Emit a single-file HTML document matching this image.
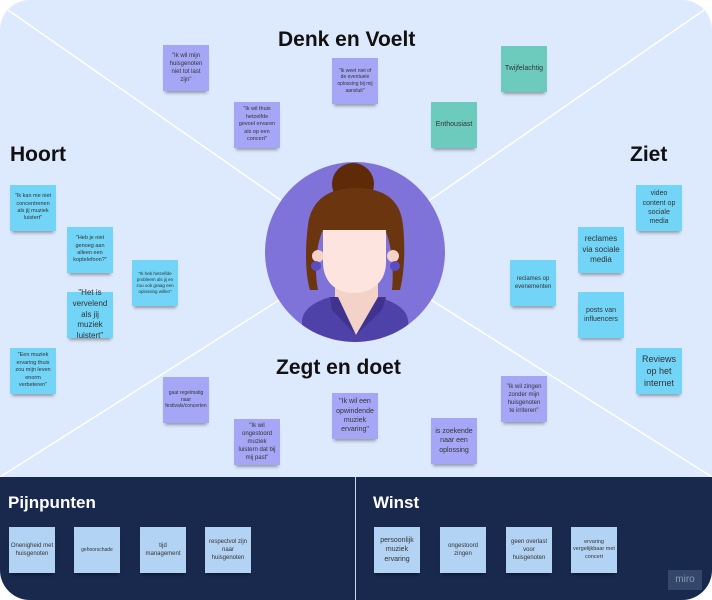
<!DOCTYPE html>
<html><head><meta charset="utf-8"><style>
body{margin:0;width:712px;height:600px;background:#fff;overflow:hidden;font-family:"Liberation Sans",sans-serif}
#w{position:absolute;left:0;top:0;width:712px;height:600px;border-radius:30px;overflow:hidden;background:#dde9fc}
.s{position:absolute;width:46px;height:46px;display:flex;align-items:center;justify-content:center;text-align:center;font-size:6px;line-height:1.35;color:#333;box-shadow:0 4px 3px -2px rgba(0,0,0,.35);padding:2px 4px;box-sizing:border-box}
.c{background:#72d4f6}.p{background:#a5a7f6}.t{background:#6dcbbe}.b{background:#b3d3f4}
.h{position:absolute;font-weight:bold;color:#111;font-size:21px}
#bot{position:absolute;left:0;top:477px;width:712px;height:123px;background:#18294d}
.wh{position:absolute;color:#fff;font-weight:bold;font-size:17px}
</style></head><body><div id="w">
<svg width="712" height="600" style="position:absolute;left:0;top:0">
<defs><clipPath id="cc"><circle cx="355" cy="252" r="90"/></clipPath></defs>
<g stroke="#fff" stroke-width="1.5">
<line x1="8" y1="10" x2="355" y2="252"/>
<line x1="704" y1="10" x2="355" y2="252"/>
<line x1="0" y1="477" x2="355" y2="252"/>
<line x1="712" y1="477" x2="355" y2="252"/>
</g>
<circle cx="355" cy="252" r="90" fill="#7f72d8"/>
<g clip-path="url(#cc)">
<path d="M302 345 L302 320 Q304 305 330 297 L378 297 Q406 305 408 320 L410 345 Z" fill="#4e41a8"/>
<rect x="335" y="270" width="43" height="40" fill="#f3d2c8"/>
<path d="M335 305 L356 335 L378 305 Z" fill="#f3d2c8"/>
<path d="M330 297 L338 297 L356 335 L332 310 Z" fill="#3f338f"/>
<path d="M378 297 L386 297 L382 310 L356 335 Z" fill="#3f338f"/>
</g>
<circle cx="353" cy="184" r="21" fill="#5e2a08"/>
<path d="M310 290 C304 270 306 240 308 225 C312 195 335 188 355 188 C378 188 400 195 403 225 C405 245 405 270 400 290 L392 290 C394 270 392 245 385 230 L323 230 C316 245 314 270 318 290 Z" fill="#6b3510"/>
<circle cx="318" cy="256" r="6" fill="#f3d2c8"/>
<circle cx="393" cy="256" r="6" fill="#f3d2c8"/>
<circle cx="316" cy="266" r="5" fill="#5b4cc0"/>
<circle cx="395" cy="266" r="5" fill="#5b4cc0"/>
<path d="M323 230 L386 230 L386 262 C386 282 372 293 354 293 C336 293 323 282 323 262 Z" fill="#fde4de"/>
</svg>
<div class="h" style="left:278px;top:28px">Denk en Voelt</div>
<div class="h" style="left:10px;top:143px">Hoort</div>
<div class="h" style="left:630px;top:143px">Ziet</div>
<div class="h" style="left:276px;top:356px">Zegt en doet</div>

<div class="s p" style="left:163px;top:45px">"Ik wil mijn huisgenoten niet tot last zijn"</div>
<div class="s p" style="left:234px;top:102px;font-size:5.5px">"Ik wil thuis hetzelfde gevoel ervaren als op een concert"</div>
<div class="s p" style="left:332px;top:58px;font-size:5px">"Ik weet niet of de eventuele oplossing bij mij aansluit"</div>
<div class="s t" style="left:431px;top:102px;font-size:7px;padding:1px">Enthousiast</div>
<div class="s t" style="left:501px;top:46px;font-size:7px;padding:1px">Twijfelachtig</div>

<div class="s c" style="left:10px;top:185px;font-size:5.5px">"Ik kan me niet concentrenen als jij muziek luistert"</div>
<div class="s c" style="left:67px;top:227px;font-size:5.5px">"Heb je niet genoeg aan alleen een koptelefoon?"</div>
<div class="s c" style="left:132px;top:260px;font-size:4.5px">"Ik heb hetzelfde probleem als jij en zou ook graag een oplossing willen"</div>
<div class="s c" style="left:67px;top:292px;font-size:8px;padding:1px">"Het is vervelend als jij muziek luistert"</div>
<div class="s c" style="left:10px;top:348px;font-size:5.5px">"Een muziek ervaring thuis zou mijn leven enorm verbeteren"</div>

<div class="s c" style="left:636px;top:185px;font-size:7px">video content op sociale media</div>
<div class="s c" style="left:578px;top:227px;font-size:8px;padding:1px">reclames via sociale media</div>
<div class="s c" style="left:510px;top:260px;font-size:6px;padding:1px">reclames op evenementen</div>
<div class="s c" style="left:578px;top:292px;font-size:7px">posts van influencers</div>
<div class="s c" style="left:636px;top:348px;font-size:9px;padding:1px">Reviews op het internet</div>

<div class="s p" style="left:163px;top:377px;font-size:5px">gaat regelmatig naar festivals/concerten</div>
<div class="s p" style="left:234px;top:419px;font-size:6px">"Ik wil ongestoord muziek luistern dat bij mij past"</div>
<div class="s p" style="left:332px;top:393px;font-size:7px">"Ik wil een opwindende muziek ervaring"</div>
<div class="s p" style="left:431px;top:418px;font-size:7px;padding:1px">is zoekende naar een oplossing</div>
<div class="s p" style="left:501px;top:376px;font-size:6px">"Ik wil zingen zonder mijn huisgenoten te irriteren"</div>

<div id="bot"></div>
<div style="position:absolute;left:355px;top:477px;width:1px;height:123px;background:#cfd8e8"></div>
<div class="wh" style="left:8px;top:493px">Pijnpunten</div>
<div class="wh" style="left:373px;top:493px">Winst</div>
<div class="s b" style="left:9px;top:527px;font-size:6px;padding:1px">Onenigheid met huisgenoten</div>
<div class="s b" style="left:74px;top:527px;font-size:5px;padding:1px">gehoorschade</div>
<div class="s b" style="left:140px;top:527px;font-size:6px;padding:1px">tijd management</div>
<div class="s b" style="left:205px;top:527px;font-size:6px">respectvol zijn naar huisgenoten</div>
<div class="s b" style="left:374px;top:527px;font-size:7px;padding:1px">persoonlijk muziek ervaring</div>
<div class="s b" style="left:440px;top:527px;font-size:6px">ongestoord zingen</div>
<div class="s b" style="left:506px;top:527px;font-size:6px;padding:1px">geen overlast voor huisgenoten</div>
<div class="s b" style="left:571px;top:527px;font-size:5.5px;padding:1px">ervaring vergelijkbaar met concert</div>
<div style="position:absolute;left:668px;top:570px;width:34px;height:20px;background:#34466a;color:#8d9ab3;font-size:10px;text-align:center;line-height:20px">miro</div>
</div></body></html>
